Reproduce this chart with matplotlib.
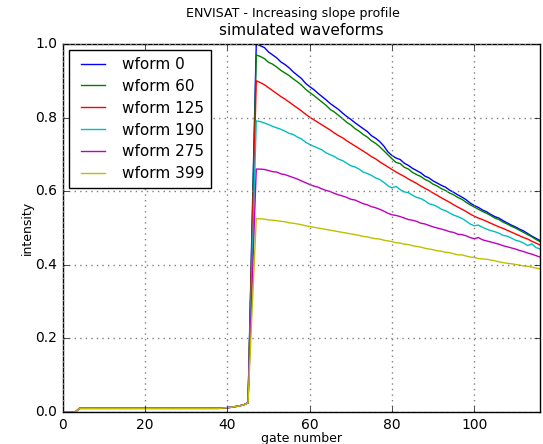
import matplotlib
matplotlib.use('Agg')
import matplotlib.pyplot as plt
import numpy as np

plt.style.use('classic')

# shared leading edge, gates 0..45 (all waveforms overlap here)
lead = [0.0, 0.0, 0.0, 0.0] + [0.01] * 35 + [0.011, 0.012, 0.013, 0.015, 0.017, 0.020, 0.025]

# gates 46..116 per waveform
wf0 = [0.52, 1.000, 0.995, 0.990, 0.978, 0.970, 0.962, 0.951, 0.944, 0.935, 0.924, 0.915, 0.906, 0.893, 0.884,
       0.876, 0.866, 0.857, 0.848, 0.838, 0.830, 0.822, 0.812, 0.803, 0.795, 0.786, 0.778, 0.770, 0.762, 0.751,
       0.744, 0.735, 0.723, 0.707, 0.697, 0.690, 0.686, 0.676, 0.670, 0.662, 0.656, 0.650, 0.641, 0.636, 0.628,
       0.622, 0.616, 0.611, 0.603, 0.597, 0.590, 0.584, 0.577, 0.568, 0.561, 0.556, 0.549, 0.544, 0.537, 0.531,
       0.527, 0.520, 0.514, 0.508, 0.503, 0.497, 0.492, 0.485, 0.478, 0.472, 0.466]
wf60 = [0.50, 0.970, 0.966, 0.960, 0.950, 0.945, 0.937, 0.928, 0.921, 0.914, 0.905, 0.897, 0.888, 0.877, 0.868,
        0.860, 0.851, 0.842, 0.833, 0.822, 0.815, 0.806, 0.797, 0.787, 0.780, 0.770, 0.763, 0.754, 0.747, 0.737,
        0.730, 0.721, 0.710, 0.699, 0.688, 0.678, 0.675, 0.665, 0.660, 0.651, 0.645, 0.640, 0.632, 0.627, 0.619,
        0.614, 0.607, 0.602, 0.595, 0.590, 0.583, 0.578, 0.570, 0.563, 0.557, 0.551, 0.545, 0.540, 0.534, 0.527,
        0.523, 0.516, 0.511, 0.505, 0.500, 0.494, 0.488, 0.482, 0.476, 0.469, 0.463]
wf125 = [0.47, 0.900, 0.895, 0.889, 0.881, 0.873, 0.865, 0.857, 0.850, 0.842, 0.834, 0.826, 0.818, 0.809, 0.801,
         0.794, 0.787, 0.780, 0.773, 0.766, 0.758, 0.751, 0.745, 0.737, 0.730, 0.723, 0.716, 0.709, 0.702, 0.694,
         0.688, 0.680, 0.673, 0.666, 0.659, 0.652, 0.646, 0.640, 0.633, 0.627, 0.621, 0.614, 0.608, 0.602, 0.595,
         0.589, 0.582, 0.576, 0.570, 0.563, 0.557, 0.551, 0.545, 0.538, 0.532, 0.527, 0.523, 0.518, 0.513, 0.508,
         0.503, 0.499, 0.494, 0.489, 0.484, 0.479, 0.474, 0.470, 0.464, 0.459, 0.454]
wf190 = [0.41, 0.791, 0.789, 0.785, 0.781, 0.776, 0.772, 0.768, 0.763, 0.757, 0.754, 0.747, 0.742, 0.733, 0.727,
         0.722, 0.717, 0.712, 0.704, 0.699, 0.694, 0.687, 0.683, 0.676, 0.669, 0.666, 0.660, 0.652, 0.648, 0.643,
         0.636, 0.632, 0.624, 0.615, 0.609, 0.613, 0.604, 0.598, 0.596, 0.589, 0.583, 0.580, 0.574, 0.566, 0.563,
         0.558, 0.551, 0.547, 0.541, 0.535, 0.531, 0.526, 0.519, 0.511, 0.506, 0.508, 0.502, 0.497, 0.493, 0.490,
         0.486, 0.480, 0.478, 0.473, 0.467, 0.464, 0.459, 0.452, 0.457, 0.447, 0.443]
wf275 = [0.35, 0.660, 0.660, 0.659, 0.656, 0.653, 0.652, 0.647, 0.645, 0.641, 0.637, 0.633, 0.628, 0.623, 0.618,
         0.614, 0.611, 0.606, 0.602, 0.599, 0.594, 0.590, 0.587, 0.583, 0.578, 0.576, 0.571, 0.566, 0.563, 0.558,
         0.555, 0.551, 0.546, 0.540, 0.536, 0.534, 0.531, 0.527, 0.523, 0.521, 0.518, 0.513, 0.511, 0.507, 0.503,
         0.500, 0.497, 0.494, 0.490, 0.488, 0.483, 0.482, 0.479, 0.474, 0.471, 0.474, 0.468, 0.465, 0.462, 0.459,
         0.456, 0.452, 0.449, 0.446, 0.443, 0.439, 0.436, 0.432, 0.429, 0.425, 0.421]
wf399 = [0.28, 0.525, 0.525, 0.524, 0.522, 0.521, 0.520, 0.518, 0.517, 0.514, 0.513, 0.511, 0.509, 0.506, 0.504,
         0.502, 0.500, 0.498, 0.496, 0.494, 0.492, 0.490, 0.488, 0.486, 0.484, 0.482, 0.480, 0.477, 0.476, 0.473,
         0.471, 0.470, 0.467, 0.465, 0.463, 0.460, 0.459, 0.456, 0.455, 0.452, 0.450, 0.448, 0.445, 0.443, 0.441,
         0.438, 0.437, 0.434, 0.433, 0.430, 0.427, 0.427, 0.424, 0.421, 0.420, 0.417, 0.416, 0.415, 0.413, 0.411,
         0.408, 0.406, 0.404, 0.403, 0.401, 0.399, 0.397, 0.396, 0.394, 0.391, 0.389]

labels = ['wform 0', 'wform 60', 'wform 125', 'wform 190', 'wform 275', 'wform 399']
series = [wf0, wf60, wf125, wf190, wf275, wf399]
colors = ['b', 'g', 'r', 'c', 'm', 'y']

fig = plt.figure(figsize=(5.43, 4.44), dpi=100, facecolor='white')
ax = fig.add_axes([0.116, 0.072, 0.8785, 0.829])
ax.set_facecolor('white')

for lab, s, c in zip(labels, series, colors):
    y = np.array(lead + s)
    x = np.arange(len(y))
    ax.plot(x, y, color=c, label=lab, lw=1.0)

ax.set_xlim(0, 116)
ax.set_ylim(0, 1.0)
ax.set_xticks([0, 20, 40, 60, 80, 100])
ax.set_yticks([0.0, 0.2, 0.4, 0.6, 0.8, 1.0])
ax.tick_params(labelsize=10)
ax.grid(True, color='gray', linestyle=':', linewidth=1.0)
ax.set_xlabel('gate number', fontsize=9, labelpad=0)
ax.set_ylabel('intensity', fontsize=9, labelpad=1)
ax.set_title('simulated waveforms', fontsize=11, y=1.005)
fig.suptitle('ENVISAT - Increasing slope profile', fontsize=9.1, x=0.54, y=0.985)
ax.legend(loc='upper left', fontsize=11, handlelength=2.2, borderpad=0.45, labelspacing=0.45,
          borderaxespad=0.4)

fig.savefig('out.png', dpi=100, facecolor='white')
